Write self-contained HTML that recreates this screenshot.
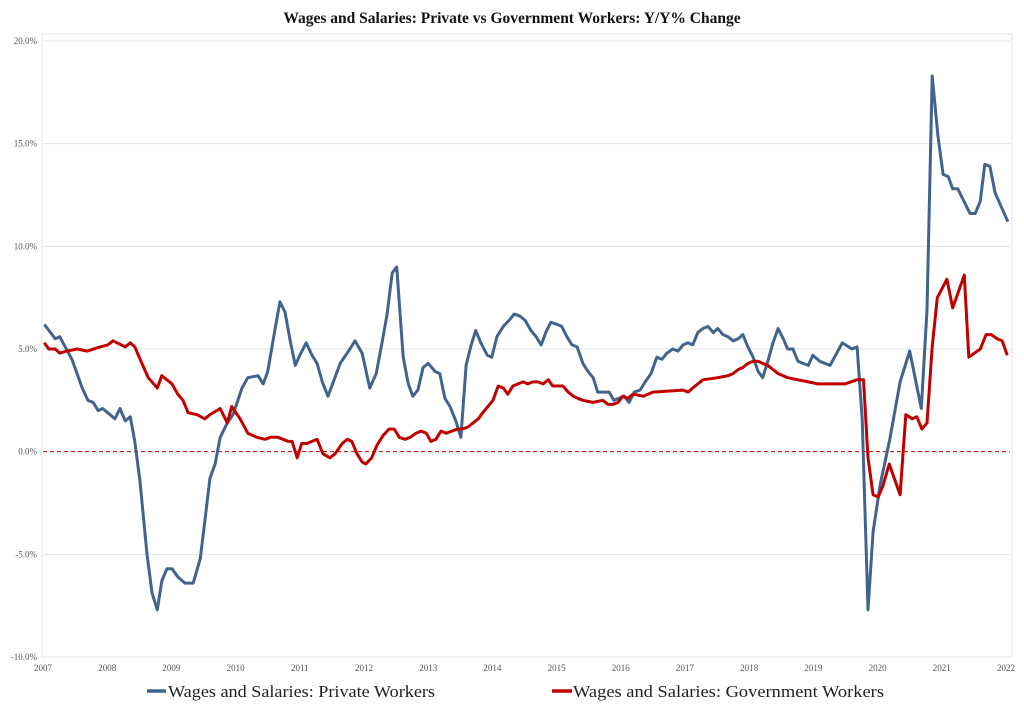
<!DOCTYPE html>
<html><head><meta charset="utf-8"><style>
body{margin:0;background:#fff;}
svg{display:block;font-family:"Liberation Serif",serif;}
</style></head><body>
<svg id="chart" width="1024" height="713" viewBox="0 0 1024 713">
<text x="512" y="23" text-anchor="middle" font-size="15.5" font-weight="bold" fill="#111">Wages and Salaries: Private vs Government Workers: Y/Y% Change</text>
<g id="grid"></g><g id="series"></g>
<g>
<g>
<line x1="147" y1="691" x2="166" y2="691" stroke="#41648e" stroke-width="3.5"/>
<text x="168" y="697" font-size="17" fill="#222" textLength="267" lengthAdjust="spacingAndGlyphs">Wages and Salaries: Private Workers</text></g>
<g>
<line x1="552" y1="691" x2="572" y2="691" stroke="#c00000" stroke-width="3.5"/>
<text x="573" y="697" font-size="17" fill="#222" textLength="311" lengthAdjust="spacingAndGlyphs">Wages and Salaries: Government Workers</text></g>
</g>
</svg>
<script>
const yTicks=[-10,-5,0,5,10,15,20];
const xTicks=[2007,2008,2009,2010,2011,2012,2013,2014,2015,2016,2017,2018,2019,2020,2021,2022];
const privDates=[2007.02,2007.19,2007.26,2007.45,2007.61,2007.70,2007.78,2007.86,2007.93,2008.12,2008.20,2008.28,2008.36,2008.43,2008.51,2008.62,2008.70,2008.78,2008.85,2008.93,2009.01,2009.10,2009.21,2009.34,2009.45,2009.52,2009.60,2009.68,2009.76,2009.87,2009.96,2010.10,2010.19,2010.35,2010.43,2010.50,2010.61,2010.69,2010.77,2010.85,2010.93,2011.00,2011.10,2011.19,2011.27,2011.35,2011.44,2011.63,2011.78,2011.86,2011.97,2012.09,2012.19,2012.28,2012.36,2012.44,2012.51,2012.61,2012.69,2012.76,2012.84,2012.92,2013.00,2013.11,2013.18,2013.26,2013.34,2013.43,2013.51,2013.59,2013.67,2013.74,2013.82,2013.92,2013.99,2014.07,2014.17,2014.26,2014.34,2014.43,2014.51,2014.60,2014.68,2014.76,2014.83,2014.91,2015.01,2015.08,2015.16,2015.24,2015.32,2015.41,2015.49,2015.57,2015.64,2015.74,2015.82,2015.89,2015.97,2016.05,2016.13,2016.21,2016.30,2016.38,2016.47,2016.56,2016.64,2016.72,2016.81,2016.89,2016.97,2017.05,2017.12,2017.20,2017.28,2017.36,2017.44,2017.51,2017.59,2017.67,2017.75,2017.83,2017.90,2017.98,2018.06,2018.14,2018.21,2018.29,2018.37,2018.45,2018.53,2018.60,2018.68,2018.76,2018.84,2018.92,2018.99,2019.10,2019.26,2019.45,2019.60,2019.68,2019.76,2019.85,2019.93,2020.04,2020.19,2020.35,2020.50,2020.68,2020.77,2020.85,2020.94,2021.02,2021.10,2021.17,2021.25,2021.44,2021.52,2021.60,2021.67,2021.75,2021.83,2022.03];
const privValues=[6.2,5.5,5.6,4.5,3.1,2.5,2.4,2.0,2.1,1.6,2.1,1.5,1.7,0.5,-1.4,-5.0,-6.9,-7.7,-6.3,-5.7,-5.7,-6.1,-6.4,-6.4,-5.2,-3.4,-1.3,-0.6,0.7,1.4,1.8,3.1,3.6,3.7,3.3,3.9,5.9,7.3,6.8,5.4,4.2,4.7,5.3,4.7,4.3,3.4,2.7,4.3,5.0,5.4,4.8,3.1,3.8,5.3,6.7,8.7,9.0,4.6,3.3,2.7,3.0,4.1,4.3,3.9,3.8,2.6,2.2,1.5,0.7,4.2,5.2,5.9,5.3,4.7,4.6,5.6,6.1,6.4,6.7,6.6,6.4,5.9,5.6,5.2,5.8,6.3,6.2,6.1,5.6,5.2,5.1,4.3,3.9,3.6,2.9,2.9,2.9,2.5,2.6,2.7,2.4,2.9,3.0,3.4,3.8,4.6,4.5,4.8,5.0,4.9,5.2,5.3,5.2,5.8,6.0,6.1,5.8,6.0,5.7,5.6,5.4,5.5,5.7,5.1,4.6,3.9,3.6,4.4,5.3,6.0,5.5,5.0,5.0,4.4,4.3,4.2,4.7,4.4,4.2,5.3,5.0,5.1,1.6,-7.7,-3.9,-1.6,0.6,3.4,4.9,2.1,6.9,18.3,15.4,13.5,13.4,12.8,12.8,11.6,11.6,12.2,14.0,13.9,12.6,11.2];
const govDates=[2007.02,2007.09,2007.19,2007.26,2007.37,2007.53,2007.69,2007.89,2008.01,2008.09,2008.28,2008.36,2008.43,2008.54,2008.64,2008.78,2008.85,2008.93,2009.01,2009.10,2009.18,2009.26,2009.40,2009.52,2009.60,2009.76,2009.87,2009.94,2010.07,2010.19,2010.33,2010.46,2010.54,2010.66,2010.82,2010.88,2010.96,2011.03,2011.11,2011.27,2011.36,2011.47,2011.55,2011.66,2011.74,2011.81,2011.89,2011.97,2012.03,2012.12,2012.20,2012.30,2012.39,2012.47,2012.55,2012.64,2012.72,2012.81,2012.89,2012.97,2013.04,2013.12,2013.20,2013.28,2013.37,2013.45,2013.53,2013.62,2013.70,2013.78,2013.85,2013.93,2014.01,2014.09,2014.17,2014.24,2014.32,2014.40,2014.48,2014.55,2014.63,2014.71,2014.79,2014.87,2014.94,2015.10,2015.18,2015.26,2015.33,2015.41,2015.57,2015.72,2015.80,2015.88,2015.96,2016.03,2016.11,2016.19,2016.35,2016.50,2016.97,2017.05,2017.12,2017.20,2017.28,2017.51,2017.67,2017.75,2017.83,2017.90,2017.98,2018.06,2018.14,2018.21,2018.29,2018.37,2018.45,2018.53,2018.60,2018.76,2018.92,2019.07,2019.31,2019.49,2019.68,2019.78,2019.85,2019.93,2020.01,2020.08,2020.18,2020.35,2020.44,2020.54,2020.61,2020.69,2020.77,2020.85,2020.93,2021.08,2021.17,2021.35,2021.42,2021.60,2021.69,2021.77,2021.86,2021.94,2022.02];
const govValues=[5.3,5.0,5.0,4.8,4.9,5.0,4.9,5.1,5.2,5.4,5.1,5.3,5.1,4.3,3.6,3.1,3.7,3.5,3.3,2.8,2.5,1.9,1.8,1.6,1.8,2.1,1.4,2.2,1.6,0.9,0.7,0.6,0.7,0.7,0.5,0.5,-0.3,0.4,0.4,0.6,-0.1,-0.3,-0.1,0.4,0.6,0.5,-0.1,-0.5,-0.6,-0.3,0.3,0.8,1.1,1.1,0.7,0.6,0.7,0.9,1.0,0.9,0.5,0.6,1.0,0.9,1.0,1.1,1.1,1.2,1.4,1.6,1.9,2.2,2.5,3.2,3.1,2.8,3.2,3.3,3.4,3.3,3.4,3.4,3.3,3.5,3.2,3.2,2.9,2.7,2.6,2.5,2.4,2.5,2.3,2.3,2.4,2.7,2.6,2.8,2.7,2.9,3.0,2.9,3.1,3.3,3.5,3.6,3.7,3.8,4.0,4.1,4.3,4.4,4.4,4.3,4.2,4.0,3.8,3.7,3.6,3.5,3.4,3.3,3.3,3.3,3.5,3.5,-0.3,-2.1,-2.2,-1.7,-0.6,-2.1,1.8,1.6,1.7,1.1,1.4,5.1,7.5,8.4,7.0,8.6,4.6,5.0,5.7,5.7,5.5,5.4,4.7];

const NS="http://www.w3.org/2000/svg";
const X0=43,X1=1006,Y0=657,Y1=41;
const xs=t=>X0+(t-2007)/(2022-2007)*(X1-X0);
const ys=v=>Y0-(v+10)/30*(Y0-Y1);
function mk(tag,attrs,parent){const e=document.createElementNS(NS,tag);for(const k in attrs)e.setAttribute(k,attrs[k]);parent.appendChild(e);return e;}
const grid=document.getElementById('grid');
const frame=mk('rect',{x:42,y:34,width:970,height:623,fill:'none',stroke:'#e4e4e4','stroke-width':1},grid);


yTicks.forEach(v=>{
  const y=ys(v);
  if(v!==0&&v!==-10){const l=mk('line',{x1:43,x2:1010,y1:y,y2:y,stroke:'#e2e2e2','stroke-width':1},grid);
  
  }
  const t=mk('text',{x:37,y:y+3,'text-anchor':'end','font-size':9,fill:'#555'},grid);
  t.textContent=v.toFixed(1)+'%';
  
  
});
const z=mk('line',{x1:43,x2:1010,y1:ys(0),y2:ys(0),stroke:'#c00000','stroke-width':1,'stroke-dasharray':'4,3'},grid);


xTicks.forEach(yr=>{
  const t=mk('text',{x:xs(yr),y:671,'text-anchor':'middle','font-size':9,fill:'#555'},grid);
  t.textContent=yr;
  
  
});
const ser=document.getElementById('series');
function draw(d,v,color,name){
  const pts=d.map((t,i)=>xs(t).toFixed(1)+','+ys(v[i]).toFixed(1)).join(' ');
  const p=mk('polyline',{points:pts,fill:'none',stroke:color,'stroke-width':3,'stroke-linejoin':'round'},ser);
  
  
}
draw(privDates,privValues,'#41648e','private-workers-line');
draw(govDates,govValues,'#c00000','government-workers-line');
</script>
</body></html>
